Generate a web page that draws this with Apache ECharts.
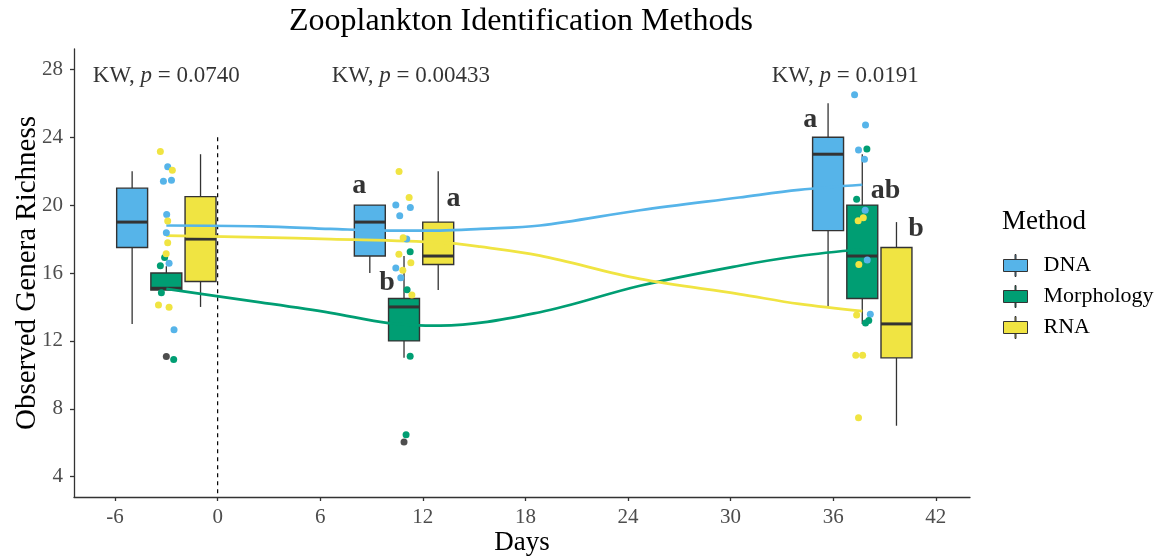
<!DOCTYPE html>
<html>
<head>
<meta charset="utf-8">
<script src="https://cdn.jsdelivr.net/npm/echarts@6/dist/echarts.min.js"></script>
<style>
  html, body { margin: 0; padding: 0; background: #fff; }
  #chart { width: 1174px; height: 559px; }
</style>
</head>
<body>
<div id="chart"></div>
<script>
// box stats: [day, min, q1, median, q3, max]
var dnaBox = [[-5, 13, 17.5, 19, 21, 22], [8.9, 16, 17, 19, 20, 20], [35.7, 14, 18.5, 23, 24, 26]];
var morphBox = [[-3, 15, 15, 15.1, 16, 16.4], [10.9, 11, 12, 14, 14.5, 17], [37.7, 13, 14.5, 17, 20, 23]];
var rnaBox = [[-1, 14, 15.5, 18, 20.5, 23], [12.9, 15, 16.5, 17, 19, 22], [39.7, 7, 11, 13, 17.5, 19]];
var outliers = [[-3, 11.08], [10.9, 6.04]];

// jittered samples
var dnaPts = [[-2.92, 22.26], [-3.17, 21.4], [-2.7, 21.47], [-2.98, 19.45], [-3.0, 18.37], [-2.84, 16.57], [-2.55, 12.65],
  [10.42, 20.0], [11.27, 19.86], [10.65, 19.37], [11.06, 18.0], [10.42, 16.3], [10.71, 15.72],
  [37.25, 26.5], [37.89, 24.72], [37.48, 23.25], [37.83, 22.7], [37.87, 19.7], [37.99, 16.76], [38.17, 13.57]];
var morphPts = [[-3.1, 16.92], [-3.35, 16.43], [-3.29, 14.84], [-2.57, 10.9],
  [11.26, 17.25], [11.08, 15.02], [11.26, 11.1], [11.02, 6.47],
  [37.97, 23.3], [37.37, 20.35], [37.89, 13.06], [38.08, 13.2]];
var rnaPts = [[-3.35, 23.16], [-2.65, 22.06], [-2.92, 19.06], [-2.92, 17.78], [-3.01, 17.14], [-3.46, 14.12], [-2.84, 13.98],
  [10.61, 21.98], [11.2, 20.45], [10.85, 18.08], [10.6, 17.1], [11.3, 16.6], [10.83, 16.16], [11.36, 14.7],
  [37.76, 19.25], [37.46, 19.08], [37.5, 16.5], [37.37, 13.53], [37.32, 11.16], [37.72, 11.16], [37.48, 7.47]];

// smoothed trends
var dnaTrend = [[-3, 18.8], [2.5, 18.75], [6.6, 18.6], [10, 18.5], [13, 18.5], [15.4, 18.6], [18.85, 18.8], [24.7, 19.7], [30.5, 20.45], [34, 20.9], [37.7, 21.2]];
var morphTrend = [[-3, 15.06], [2.5, 14.27], [6.6, 13.65], [10, 13.05], [13, 12.9], [18.85, 13.69], [24.7, 15.25], [30.5, 16.43], [34, 17.0], [37.7, 17.4]];
var rnaTrend = [[-3, 18.2], [2.5, 18.1], [6.6, 18.0], [13, 17.8], [15.35, 17.55], [18.85, 17.02], [24.7, 15.65], [30.5, 14.76], [34, 14.18], [37.7, 13.75]];

// dashed reference at day 0
var day0Line = [[0, 24], [0, 2.8]];

var xTicks = [-6, 0, 6, 12, 18, 24, 30, 36, 42];
var yTicks = [4, 8, 12, 16, 20, 24, 28];

var kwP = ['0.0740', '0.00433', '0.0191'];
var kwX = [-3, 11.3, 36.7];
var kwY = 27.6;
var letters = ['a', 'b', 'a', 'a', 'ab', 'b'];
var letterX = [8.28, 9.9, 13.79, 34.66, 39.06, 40.85];
var letterY = [21.15, 15.41, 20.35, 25.05, 20.85, 18.59];

var BOX_W = 1.81;
var FONT = 'Liberation Serif';

function renderBox(params, api) {
  var x = api.value(0);
  var lo = api.coord([x, api.value(1)]);
  var q1 = api.coord([x, api.value(2)]);
  var md = api.coord([x, api.value(3)]);
  var q3 = api.coord([x, api.value(4)]);
  var hi = api.coord([x, api.value(5)]);
  var hw = api.size([BOX_W, 0])[0] / 2;
  var line = { stroke: '#333', lineWidth: 1.3 };
  return {
    type: 'group',
    children: [
      { type: 'line', shape: { x1: lo[0], y1: lo[1], x2: q1[0], y2: q1[1] }, style: line },
      { type: 'line', shape: { x1: q3[0], y1: q3[1], x2: hi[0], y2: hi[1] }, style: line },
      { type: 'rect', shape: { x: q3[0] - hw, y: q3[1], width: hw * 2, height: q1[1] - q3[1] },
        style: { fill: api.visual('color'), stroke: '#333', lineWidth: 1.4 } },
      { type: 'line', shape: { x1: md[0] - hw, y1: md[1], x2: md[0] + hw, y2: md[1] },
        style: { stroke: '#333', lineWidth: 3 } }
    ]
  };
}

function boxSeries(name, data, color) {
  return { name: name, type: 'custom', renderItem: renderBox, data: data, z: 1,
    itemStyle: { color: color }, encode: { x: 0, y: [1, 2, 3, 4, 5] } };
}
function ptSeries(name, data, color) {
  return { name: name, type: 'scatter', data: data, symbolSize: 7, z: 4,
    itemStyle: { color: color, opacity: 1 } };
}
function trendSeries(name, data, color) {
  return { name: name + ' trend', type: 'line', data: data, smooth: 0.35, showSymbol: false, z: 3,
    lineStyle: { color: color, width: 2.7 }, itemStyle: { color: color } };
}

var cDNA = '#56B4E9', cMorph = '#009E73', cRNA = '#F0E442';

var kwData = kwX.map(function (x, i) { return { value: [x, kwY], p: kwP[i] }; });
var letterData = letters.map(function (t, i) { return { value: [letterX[i], letterY[i]], name: t }; });

var option = {
  animation: false,
  backgroundColor: '#fff',
  grid: { left: 74, right: 204, top: 49, bottom: 62, containLabel: false, outerBoundsMode: 'none' },
  graphic: [
    { type: 'text', x: 521, y: 22,
      style: { text: 'Zooplankton Identification Methods', font: '32px "Liberation Serif"', fill: '#000', textAlign: 'center', textVerticalAlign: 'middle' } },
    { type: 'text', x: 1002, y: 222,
      style: { text: 'Method', font: '27px "Liberation Serif"', fill: '#000', textAlign: 'left', textVerticalAlign: 'middle' } }
  ],
  legend: {
    data: ['DNA', 'Morphology', 'RNA'],
    orient: 'vertical', left: 998, top: 249,
    itemWidth: 24, itemHeight: 22, itemGap: 8,
    icon: 'path://M0,5H24V17H0Z M11.5,0H12.5V5H11.5Z M11.5,17H12.5V22H11.5Z',
    itemStyle: { borderColor: '#333', borderWidth: 1 },
    textStyle: { fontFamily: FONT, fontSize: 22, color: '#000', padding: [0, 0, 0, 11] }
  },
  xAxis: {
    type: 'value', min: -8.4, max: 44,
    name: 'Days', nameLocation: 'middle', nameGap: 32, nameMoveOverlap: false,
    nameTextStyle: { fontFamily: FONT, fontSize: 27, color: '#000' },
    splitLine: { show: false },
    axisLine: { show: true, onZero: false, lineStyle: { color: '#333', width: 1.3 } },
    axisTick: { show: true, length: 4, lineStyle: { color: '#333', width: 1.3 }, customValues: xTicks },
    axisLabel: { customValues: xTicks, fontFamily: FONT, fontSize: 21, color: '#4D4D4D', margin: 10 }
  },
  yAxis: {
    type: 'value', min: 2.8, max: 29.2,
    name: 'Observed Genera Richness', nameLocation: 'middle', nameGap: 32, nameMoveOverlap: false,
    nameTextStyle: { fontFamily: FONT, fontSize: 29, color: '#000' },
    splitLine: { show: false },
    axisLine: { show: true, onZero: false, lineStyle: { color: '#333', width: 1.3 } },
    axisTick: { show: true, length: 4, lineStyle: { color: '#333', width: 1.3 }, customValues: yTicks },
    axisLabel: { customValues: yTicks, fontFamily: FONT, fontSize: 21, color: '#4D4D4D', margin: 11 }
  },
  series: [
    boxSeries('DNA', dnaBox, cDNA),
    boxSeries('Morphology', morphBox, cMorph),
    boxSeries('RNA', rnaBox, cRNA),
    {
      name: 'outliers', type: 'scatter', data: outliers, symbolSize: 7, z: 2,
      itemStyle: { color: '#222' }
    },
    {
      name: 'day0', type: 'line', data: day0Line, z: 2, showSymbol: false, silent: true,
      lineStyle: { color: '#000', type: [4, 4], width: 1.2 }
    },
    ptSeries('DNA', dnaPts, cDNA),
    ptSeries('Morphology', morphPts, cMorph),
    ptSeries('RNA', rnaPts, cRNA),
    trendSeries('DNA', dnaTrend, cDNA),
    trendSeries('Morphology', morphTrend, cMorph),
    trendSeries('RNA', rnaTrend, cRNA),
    {
      name: 'kw', type: 'scatter', data: kwData, symbolSize: 1, z: 5, silent: true,
      itemStyle: { color: 'rgba(0,0,0,0)' },
      label: {
        show: true, position: 'inside',
        formatter: function (p) { return '{n|KW, }{i|p}{n| = ' + p.data.p + '}'; },
        rich: {
          n: { fontFamily: FONT, fontSize: 23, color: '#000' },
          i: { fontFamily: FONT, fontSize: 23, fontStyle: 'italic', color: '#000' }
        }
      }
    },
    {
      name: 'letters', type: 'scatter', data: letterData, symbolSize: 1, z: 5, silent: true,
      itemStyle: { color: 'rgba(0,0,0,0)' },
      label: {
        show: true, position: 'inside', formatter: '{b}',
        fontFamily: FONT, fontSize: 28, fontWeight: 'bold', color: '#000'
      }
    }
  ]
};

var chart = echarts.init(document.getElementById('chart'));
chart.setOption(option);
</script>
</body>
</html>
